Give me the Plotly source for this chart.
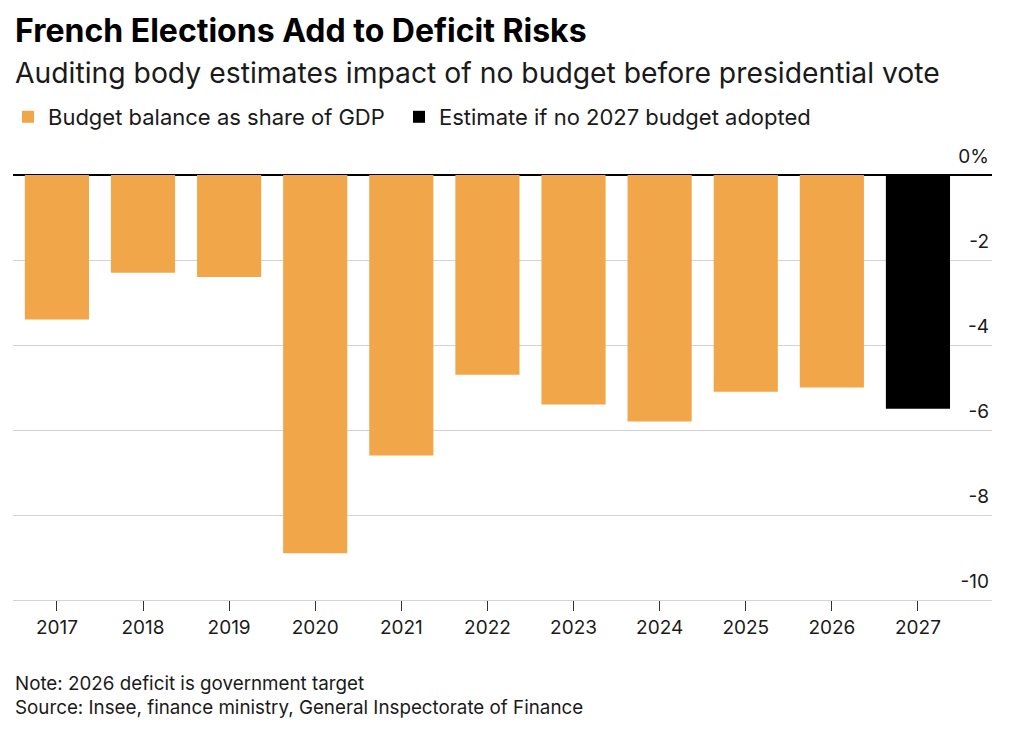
import plotly.graph_objects as go

# data
years = ["2017", "2018", "2019", "2020", "2021", "2022", "2023", "2024", "2025", "2026"]
balance = [-3.4, -2.3, -2.4, -8.9, -6.6, -4.7, -5.4, -5.8, -5.1, -5.0]
estimate_years = ["2027"]
estimate = [-5.5]

y_ticks = [0, -2, -4, -6, -8, -10]
y_ticktext = ["0%", "-2", "-4", "-6", "-8", "-10"]

ORANGE = "#f0a649"
BLACK = "#000000"
FONT = "Inter, Liberation Sans, Arial, sans-serif"

# the page adds an 8px body margin, so the figure is 8px smaller each way
W, H = 1016, 727
PLOT_TOP, PLOT_BOTTOM = 116, 592

fig = go.Figure()

fig.add_trace(go.Bar(
    x=years,
    y=balance,
    name="Budget balance as share of GDP",
    marker=dict(color=ORANGE, line=dict(width=0)),
    legend="legend",
))

fig.add_trace(go.Bar(
    x=estimate_years,
    y=estimate,
    name="Estimate if no 2027 budget adopted",
    marker=dict(color=BLACK, line=dict(width=0)),
    legend="legend2",
))

legend_style = dict(
    orientation="h",
    xref="container", yref="container",
    xanchor="left",
    y=1 - 109 / H, yanchor="middle",
    font=dict(size=22, color="#1a1a1a"),
    itemclick=False,
    itemdoubleclick=False,
)

fig.update_layout(
    width=W,
    height=H,
    paper_bgcolor="white",
    plot_bgcolor="white",
    font=dict(family=FONT, color="#1a1a1a"),
    barmode="relative",
    bargap=0.255,
    margin=dict(l=5, r=32, t=PLOT_TOP, b=H - PLOT_BOTTOM, pad=0, autoexpand=False),
    legend=dict(legend_style, x=-3 / W),
    legend2=dict(legend_style, x=391 / W),
    showlegend=True,
)

fig.update_xaxes(
    type="category",
    categoryorder="array",
    categoryarray=years + estimate_years,
    range=[-0.51, 10.86],
    showgrid=False,
    showline=True,
    linecolor="#d3d3d3",
    linewidth=1,
    ticks="outside",
    ticklen=10,
    tickwidth=1,
    tickcolor="#333333",
    tickfont=dict(size=19, color="#1a1a1a"),
    fixedrange=True,
)

fig.update_yaxes(
    side="right",
    range=[-10, 1.2],
    tickvals=y_ticks,
    ticktext=y_ticktext,
    ticklabelposition="inside top",
    ticklabelshift=-5,
    tickfont=dict(size=19, color="#1a1a1a"),
    showgrid=True,
    gridcolor="#d3d3d3",
    gridwidth=1,
    zeroline=True,
    zerolinecolor="#000000",
    zerolinewidth=1.5,
    showline=False,
    ticks="",
    fixedrange=True,
)


def paper_y(ref_px):
    # convert a y pixel of the reference screenshot to paper units
    return (PLOT_BOTTOM - (ref_px - 8)) / (PLOT_BOTTOM - PLOT_TOP)


fig.add_annotation(
    text="<b>French Elections Add to Deficit Risks</b>",
    xref="paper", yref="paper", x=0, xanchor="left",
    y=paper_y(30), yanchor="middle",
    showarrow=False, font=dict(size=32, color="#000000"),
)
fig.add_annotation(
    text="Auditing body estimates impact of no budget before presidential vote",
    xref="paper", yref="paper", x=0, xanchor="left",
    y=paper_y(73), yanchor="middle",
    showarrow=False, font=dict(size=28.3, color="#1a1a1a"),
)
fig.add_annotation(
    text="Note: 2026 deficit is government target<br>Source: Insee, finance ministry, General Inspectorate of Finance",
    xref="paper", yref="paper", x=0, xanchor="left",
    y=paper_y(695), yanchor="middle",
    align="left", showarrow=False,
    font=dict(size=18.8, color="#1a1a1a"),
)

fig.write_html("out.html")
